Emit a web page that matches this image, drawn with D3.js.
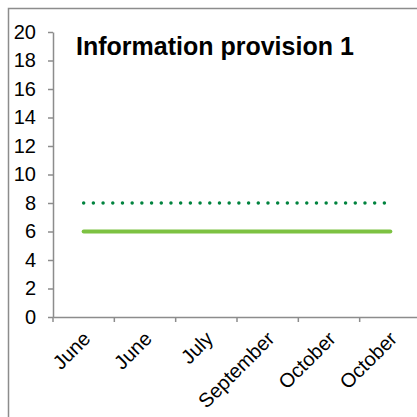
<!DOCTYPE html>
<html><head><meta charset="utf-8">
<script src="https://cdn.jsdelivr.net/npm/d3@7"></script>
<style>html,body{margin:0;padding:0;background:#fff;overflow:hidden}</style>
</head><body>
<svg id="c" width="417" height="417"></svg>
<script>
const categories = ["June","June","July","September","October","October"];
const seriesSolid = [6,6,6,6,6,6];
const seriesDotted = [8,8,8,8,8,8];
const yTicks = [0,2,4,6,8,10,12,14,16,18,20];
const title = "Information provision 1";

const svg = d3.select("#c");
const axisColor = "#8c8c8c";
const font = "Liberation Sans, Arial, sans-serif";

svg.append("rect").attr("x",8.5).attr("y",8.5).attr("width",420).attr("height",420)
  .attr("fill","#fff").attr("stroke",axisColor).attr("stroke-width",1.5);

const x = d3.scaleBand().domain(d3.range(categories.length)).range([53, 421]).padding(0);
const y = d3.scaleLinear().domain([0,20]).range([317, 32]);

// y axis
const ya = svg.append("g").attr("transform","translate(53,0)")
  .call(d3.axisLeft(y).tickValues(yTicks).tickSize(5).tickSizeOuter(0).tickPadding(12));
ya.select(".domain").attr("stroke",axisColor).attr("stroke-width",1.5);
ya.selectAll(".tick line").attr("stroke",axisColor).attr("stroke-width",1.5);
ya.selectAll(".tick text").attr("font-family",font).attr("font-size",20).attr("fill","#000");

// x axis
const xa = svg.append("g").attr("transform","translate(0,317)")
  .call(d3.axisBottom(x).tickFormat(i=>categories[i]).tickSize(0).tickSizeOuter(0));
xa.select(".domain").attr("stroke",axisColor).attr("stroke-width",1.5);
xa.selectAll(".tick text").attr("font-family",font).attr("font-size",20).attr("fill","#000")
  .attr("text-anchor","end").attr("dy",0).attr("y",0)
  .attr("transform","translate(8,23) rotate(-45)");
// boundary ticks
const bounds = d3.range(categories.length).map(i=>x(i));
xa.selectAll(".btick").data(bounds).enter().append("line")
  .attr("x1",d=>d).attr("x2",d=>d).attr("y1",0).attr("y2",5)
  .attr("stroke",axisColor).attr("stroke-width",1.5);

const cx = i => x(i) + x.bandwidth()/2;
const line = d3.line().x((d,i)=>cx(i)).y(d=>y(d));

svg.append("path").datum(seriesSolid).attr("d",line).attr("fill","none")
  .attr("stroke","#7dc242").attr("stroke-width",4).attr("stroke-linecap","round");
svg.append("path").datum(seriesDotted).attr("d",line).attr("fill","none")
  .attr("stroke","#00833e").attr("stroke-width",3.5).attr("stroke-linecap","round")
  .attr("stroke-dasharray","0,9.7");

svg.append("text").attr("x",76).attr("y",55).attr("font-family",font)
  .attr("font-weight","bold").attr("font-size",25).attr("fill","#000").text(title);
</script>
</body></html>
